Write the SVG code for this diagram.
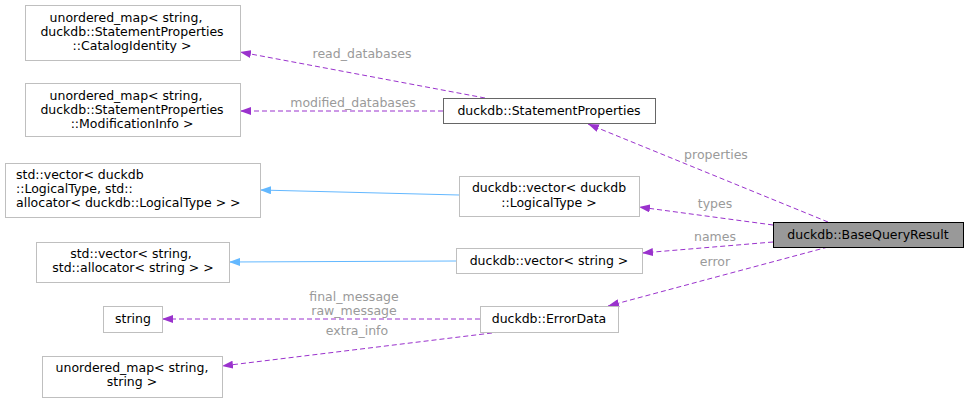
<svg xmlns="http://www.w3.org/2000/svg" width="968" height="402" viewBox="0 0 968 402">
<defs>
<style>
text{font-family:"DejaVu Sans",sans-serif;font-size:12.5px;fill:#000}
.n{fill:#fff;stroke:#bfbfbf;stroke-width:1}
.lbl{fill:#9a9a9a;text-anchor:middle}
.c{text-anchor:middle}
.u{fill:none;stroke:#9a32cd;stroke-dasharray:5,3}
.i{fill:none;stroke:#63b8ff}
</style>
<marker id="pa" markerWidth="11" markerHeight="8" refX="11" refY="4" orient="auto" markerUnits="userSpaceOnUse"><path d="M0,0L11,4L0,8z" fill="#9a32cd"/></marker>
<marker id="ba" markerWidth="11" markerHeight="8" refX="11" refY="4" orient="auto" markerUnits="userSpaceOnUse"><path d="M0,0L11,4L0,8z" fill="#63b8ff"/></marker>
</defs>
<rect width="968" height="402" fill="#fff"/>
<g id="edges">
<path class="u" d="M485,98L240,52" marker-end="url(#pa)"/>
<text class="lbl" x="362" y="58">read_databases</text>
<path class="u" d="M443,111L240,111" marker-end="url(#pa)"/>
<text class="lbl" x="353" y="107">modified_databases</text>
<path class="u" d="M828,222L588,124" marker-end="url(#pa)"/>
<text class="lbl" x="716" y="159">properties</text>
<path class="u" d="M773,225L639,207" marker-end="url(#pa)"/>
<text class="lbl" x="715" y="208">types</text>
<path class="u" d="M773,242L642,253" marker-end="url(#pa)"/>
<text class="lbl" x="715" y="241">names</text>
<path class="u" d="M828,247L608,306" marker-end="url(#pa)"/>
<text class="lbl" x="715" y="266">error</text>
<path class="u" d="M480,319L162,319" marker-end="url(#pa)"/>
<text class="lbl" x="354" y="301">final_message</text>
<text class="lbl" x="354" y="315">raw_message</text>
<path class="u" d="M500,332L222,366" marker-end="url(#pa)"/>
<text class="lbl" x="357" y="335">extra_info</text>
<path class="i" d="M459,195L260,190" marker-end="url(#ba)"/>
<path class="i" d="M456,261L229,262" marker-end="url(#ba)"/>
</g>
<g id="n_catalog"><rect class="n" x="25.5" y="5.5" width="215" height="55"/>
<text class="c" x="126" y="22">unordered_map&lt; string,</text><text class="c" x="132" y="36">duckdb::StatementProperties</text><text class="c" x="132" y="50">::CatalogIdentity &gt;</text></g>
<g id="n_mod"><rect class="n" x="25.5" y="83.5" width="215" height="53"/>
<text class="c" x="126" y="100">unordered_map&lt; string,</text><text class="c" x="132" y="114">duckdb::StatementProperties</text><text class="c" x="132" y="128">::ModificationInfo &gt;</text></g>
<g id="n_stdvec_lt"><rect class="n" x="5.5" y="163.5" width="255" height="54"/>
<text x="16" y="179">std::vector&lt; duckdb</text><text x="16" y="193">::LogicalType, std::</text><text x="16" y="207">allocator&lt; duckdb::LogicalType &gt; &gt;</text></g>
<g id="n_stdvec_str"><rect class="n" x="36.5" y="242.5" width="193" height="40"/>
<text class="c" x="131" y="258">std::vector&lt; string,</text><text class="c" x="133" y="272">std::allocator&lt; string &gt; &gt;</text></g>
<g id="n_string"><rect class="n" x="103.5" y="306.5" width="59" height="26"/>
<text class="c" x="133" y="323">string</text></g>
<g id="n_umap_ss"><rect class="n" x="42.5" y="356.5" width="180" height="41"/>
<text class="c" x="132" y="372">unordered_map&lt; string,</text><text class="c" x="132" y="386">string &gt;</text></g>
<g id="n_props"><rect x="443.5" y="98.5" width="212" height="25" fill="#fff" stroke="#666"/>
<text class="c" x="549" y="115">duckdb::StatementProperties</text></g>
<g id="n_vec_lt"><rect class="n" x="459.5" y="176.5" width="180" height="40"/>
<text class="c" x="549" y="192">duckdb::vector&lt; duckdb</text><text class="c" x="549" y="207">::LogicalType &gt;</text></g>
<g id="n_vec_str"><rect class="n" x="456.5" y="248.5" width="186" height="25"/>
<text class="c" x="549" y="265">duckdb::vector&lt; string &gt;</text></g>
<g id="n_err"><rect class="n" x="480.5" y="306.5" width="138" height="26"/>
<text class="c" x="549" y="323">duckdb::ErrorData</text></g>
<g id="n_bqr"><rect x="773.5" y="222.5" width="190" height="25" fill="#999" stroke="#000"/>
<text class="c" x="868" y="239">duckdb::BaseQueryResult</text></g>
</svg>
